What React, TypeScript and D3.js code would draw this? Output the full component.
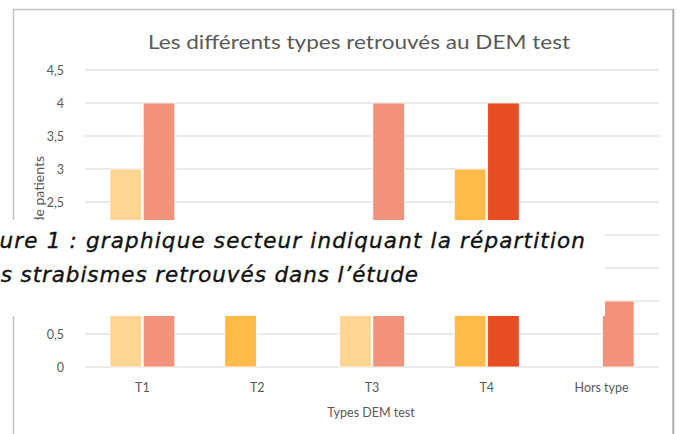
import React, { useRef, useEffect } from 'react';
import * as d3 from 'd3';

// data
const categories = ['T1', 'T2', 'T3', 'T4', 'Hors type'];
const seriesNames = ['gauche', 'droite'];
const leftValues = [3, 2, 2, 3, 0];
const rightValues = [4, 0, 4, 4, 1];
const yTicks = [0, 0.5, 1, 1.5, 2, 2.5, 3, 3.5, 4, 4.5];

// bar colours, one per point (Excel "vary colours")
const leftColors = ['#FFD691', '#FFBA47', '#FFD691', '#FFBA47', '#FFD691'];
const rightColors = ['#F2927A', '#F2927A', '#F2927A', '#E64D23', '#F2927A'];

const chartTitle = 'Les différents types retrouvés au DEM test';
const xTitle = 'Types DEM test';
const yTitle = 'Nombre de patients';
const captionLines = [
  'Figure 1 : graphique secteur indiquant la répartition',
  'des strabismes retrouvés dans l\u2019étude',
];

const W = 680;
const H = 434;

const App = () => {
  const ref = useRef<SVGSVGElement>(null);

  useEffect(() => {
    const svg = d3.select(ref.current);
    svg.selectAll('*').remove();

    const font = 'Lato, "Open Sans", sans-serif';
    const grey = '#595959';

    const x0 = d3.scaleBand<string>().domain(categories).range([85, 659]);
    const x1 = d3.scaleBand<string>().domain(seriesNames)
      .range([0, x0.bandwidth()]).paddingInner(0.05).paddingOuter(0.75);
    const y = d3.scaleLinear().domain([0, 4.5]).range([367, 70]);

    // chart frame
    svg.append('rect')
      .attr('x', 13.5).attr('y', 9.5)
      .attr('width', 659.5).attr('height', 440)
      .attr('fill', 'white').attr('stroke', '#c4c4c4').attr('stroke-width', 1.5);
    svg.append('line')
      .attr('x1', 673.5).attr('x2', 673.5).attr('y1', 9).attr('y2', H)
      .attr('stroke', '#a8a8a8').attr('stroke-width', 1.5);

    svg.append('text')
      .attr('x', 359).attr('y', 49)
      .attr('text-anchor', 'middle')
      .attr('font-family', font).attr('font-size', 20)
      .attr('fill', grey)
      .attr('textLength', 422).attr('lengthAdjust', 'spacingAndGlyphs')
      .text(chartTitle);

    // gridlines
    svg.append('g')
      .selectAll('line')
      .data(yTicks)
      .enter()
      .append('line')
      .attr('x1', 85).attr('x2', 659)
      .attr('y1', d => y(d)).attr('y2', d => y(d))
      .attr('stroke', '#e3e3e3').attr('stroke-width', 1.5);

    // bars
    const groups = svg.append('g')
      .selectAll('g')
      .data(categories)
      .enter()
      .append('g')
      .attr('transform', d => 'translate(' + x0(d) + ',0)');

    groups.each(function (cat, i) {
      const g = d3.select(this);
      const vals = [
        { key: 'gauche', v: leftValues[i], c: leftColors[i] },
        { key: 'droite', v: rightValues[i], c: rightColors[i] },
      ].filter(b => b.v > 0);
      g.selectAll('rect')
        .data(vals)
        .enter()
        .append('rect')
        .attr('x', b => x1(b.key) as number)
        .attr('width', x1.bandwidth())
        .attr('y', b => y(b.v))
        .attr('height', b => y(0) - y(b.v))
        .attr('fill', b => b.c)
        .attr('stroke', 'white').attr('stroke-width', 0.8);
    });

    // axes
    const yAxis = svg.append('g')
      .attr('transform', 'translate(70,0)')
      .call(d3.axisLeft(y).tickValues(yTicks).tickSize(0).tickPadding(6)
        .tickFormat(d => String(d).replace('.', ',')));
    yAxis.select('.domain').remove();
    yAxis.selectAll('text')
      .attr('font-family', font).attr('font-size', 12.5).attr('fill', grey);

    const xAxis = svg.append('g')
      .attr('transform', 'translate(0,367)')
      .call(d3.axisBottom(x0).tickSize(0).tickPadding(16));
    xAxis.select('.domain').remove();
    xAxis.selectAll('text')
      .attr('font-family', font).attr('font-size', 12.5).attr('fill', grey);

    svg.append('text')
      .attr('x', 371).attr('y', 417)
      .attr('text-anchor', 'middle')
      .attr('font-family', font).attr('font-size', 12.5).attr('fill', grey)
      .text(xTitle);

    svg.append('text')
      .attr('transform', 'translate(44,156) rotate(-90)')
      .attr('text-anchor', 'end')
      .attr('font-family', font).attr('font-size', 14).attr('fill', grey)
      .text(yTitle);

    // the caption of the page lying over the chart
    svg.append('rect')
      .attr('x', 0).attr('y', 220).attr('width', 605).attr('height', 96)
      .attr('fill', 'white');
    svg.append('g')
      .selectAll('text')
      .data(captionLines)
      .enter()
      .append('text')
      .attr('x', (d, i) => (i === 0 ? -36 : -28))
      .attr('y', (d, i) => 248 + i * 34)
      .attr('font-family', '"DejaVu Sans", sans-serif')
      .attr('font-style', 'italic')
      .attr('font-size', 21.5)
      .attr('fill', '#111')
      .attr('stroke', '#111').attr('stroke-width', 0.35)
      .attr('textLength', (d, i) => (i === 0 ? 621 : 446))
      .attr('lengthAdjust', 'spacing')
      .text(d => d);
  }, []);

  return (
    <svg ref={ref} width={W} height={H}
      style={{ position: 'absolute', left: 0, top: 0, background: 'white' }} />
  );
};

export default App;
